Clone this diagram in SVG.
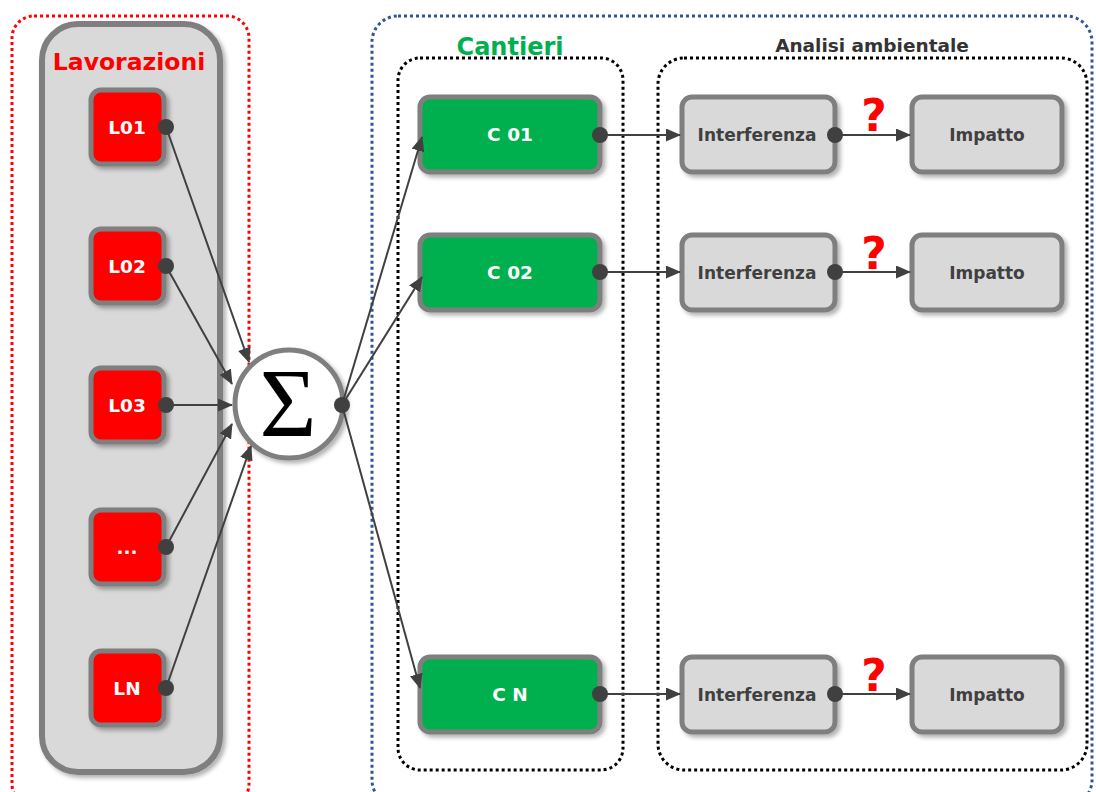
<svg xmlns="http://www.w3.org/2000/svg" width="1096" height="792" viewBox="0 0 1096 792">
<style>
.node{stroke:#7f7f7f;stroke-width:5;filter:url(#sh)}
.red{fill:#ff0000}.green{fill:#00b050}.grey{fill:#d9d9d9}
.t{font-family:"DejaVu Sans",sans-serif;font-weight:bold;text-anchor:middle}
.w{fill:#ffffff;font-size:18.5px}
.g{fill:#404040;font-size:17px}
.con{stroke:#404040;stroke-width:2;fill:none;marker-end:url(#ah)}
.dot{fill:#404040}
</style>
<defs>
<marker id="ah" markerWidth="15" markerHeight="13" refX="14" refY="6.5" orient="auto" markerUnits="userSpaceOnUse">
<path d="M0,0 L15,6.5 L0,13 Z" fill="#404040"/>
</marker>
<filter id="sh" x="-20%" y="-20%" width="150%" height="150%">
<feDropShadow dx="3" dy="3" stdDeviation="2" flood-color="#000" flood-opacity="0.3"/>
</filter>
</defs>

<g id="frame-lavorazioni">
<rect x="12" y="16" width="237" height="790" rx="22" fill="none" stroke="#ff0000" stroke-width="3" stroke-dasharray="3,3"/>
</g>
<g id="frame-right">
<rect x="372" y="16" width="720" height="790" rx="26" fill="none" stroke="#2f5597" stroke-width="3" stroke-dasharray="3,3"/>
</g>
<g id="lavorazioni">
<rect x="42" y="24" width="178" height="748" rx="36" fill="#d9d9d9" stroke="#7f7f7f" stroke-width="6" filter="url(#sh)"/>
<text class="t" x="129" y="70" fill="#ff0000" font-size="23.5">Lavorazioni</text>
</g>
<g id="cantieri">
<rect x="398" y="58" width="225" height="712" rx="22" fill="none" stroke="#000" stroke-width="3" stroke-dasharray="3,3"/>
<text class="t" x="510" y="55" fill="#00b050" font-size="24">Cantieri</text>
</g>
<g id="analisi">
<rect x="658" y="58" width="429" height="712" rx="26" fill="none" stroke="#000" stroke-width="3" stroke-dasharray="3,3"/>
<text class="t" x="872" y="52" fill="#333333" font-size="18.5">Analisi ambientale</text>
</g>

<g id="L01"><rect class="node red" x="91" y="90" width="73" height="74" rx="10"/><text class="t w" x="127" y="134">L01</text></g>
<g id="L02"><rect class="node red" x="91" y="229" width="73" height="74" rx="10"/><text class="t w" x="127" y="273">L02</text></g>
<g id="L03"><rect class="node red" x="91" y="368" width="73" height="74" rx="10"/><text class="t w" x="127" y="412">L03</text></g>
<g id="Ldots"><rect class="node red" x="91" y="510" width="73" height="74" rx="10"/><text class="t w" x="127" y="554">...</text></g>
<g id="LN"><rect class="node red" x="91" y="651" width="73" height="74" rx="10"/><text class="t w" x="127" y="695">LN</text></g>

<g id="sum">
<circle cx="289" cy="404" r="54" fill="#ffffff" stroke="#7f7f7f" stroke-width="5" filter="url(#sh)"/>
<text x="288" y="436" font-family="Liberation Serif,DejaVu Serif,serif" font-size="98" text-anchor="middle" fill="#000">Σ</text>
</g>

<g id="C01"><rect class="node green" x="420" y="97" width="180" height="75" rx="10"/><text class="t w" x="510" y="141">C 01</text></g>
<g id="C02"><rect class="node green" x="420" y="235" width="180" height="75" rx="10"/><text class="t w" x="510" y="279">C 02</text></g>
<g id="CN"><rect class="node green" x="420" y="657" width="180" height="75" rx="10"/><text class="t w" x="510" y="701">C N</text></g>

<g id="I1"><rect class="node grey" x="682" y="97" width="153" height="75" rx="10"/><text class="t g" x="757" y="141">Interferenza</text></g>
<g id="I2"><rect class="node grey" x="682" y="235" width="153" height="75" rx="10"/><text class="t g" x="757" y="279">Interferenza</text></g>
<g id="I3"><rect class="node grey" x="682" y="657" width="153" height="75" rx="10"/><text class="t g" x="757" y="701">Interferenza</text></g>

<g id="P1"><rect class="node grey" x="912" y="97" width="150" height="75" rx="10"/><text class="t g" x="987" y="141">Impatto</text></g>
<g id="P2"><rect class="node grey" x="912" y="235" width="150" height="75" rx="10"/><text class="t g" x="987" y="279">Impatto</text></g>
<g id="P3"><rect class="node grey" x="912" y="657" width="150" height="75" rx="10"/><text class="t g" x="987" y="701">Impatto</text></g>

<g id="q">
<text class="t" x="874" y="131" fill="#ff0000" font-size="44">?</text>
<text class="t" x="874" y="269" fill="#ff0000" font-size="44">?</text>
<text class="t" x="874" y="691" fill="#ff0000" font-size="44">?</text>
</g>

<g id="connectors">
<path class="con" d="M166,127 L249,362"/>
<path class="con" d="M166,266 L232,384"/>
<path class="con" d="M166,405 L232,405"/>
<path class="con" d="M166,547 L232,424"/>
<path class="con" d="M166,688 L251,446"/>
<path class="con" d="M342,405 L422,137"/>
<path class="con" d="M342,405 L422,277"/>
<path class="con" d="M342,405 L420,688"/>
<path class="con" d="M600,135 L680,135"/>
<path class="con" d="M600,272 L680,272"/>
<path class="con" d="M600,694 L680,694"/>
<path class="con" d="M835,135 L910,135"/>
<path class="con" d="M835,272 L910,272"/>
<path class="con" d="M835,694 L910,694"/>
<circle class="dot" cx="166" cy="127" r="8"/>
<circle class="dot" cx="166" cy="266" r="8"/>
<circle class="dot" cx="166" cy="405" r="8"/>
<circle class="dot" cx="166" cy="547" r="8"/>
<circle class="dot" cx="166" cy="688" r="8"/>
<circle class="dot" cx="342" cy="405" r="8"/>
<circle class="dot" cx="600" cy="135" r="8"/>
<circle class="dot" cx="600" cy="272" r="8"/>
<circle class="dot" cx="600" cy="694" r="8"/>
<circle class="dot" cx="835" cy="135" r="8"/>
<circle class="dot" cx="835" cy="272" r="8"/>
<circle class="dot" cx="835" cy="694" r="8"/>
</g>
</svg>
